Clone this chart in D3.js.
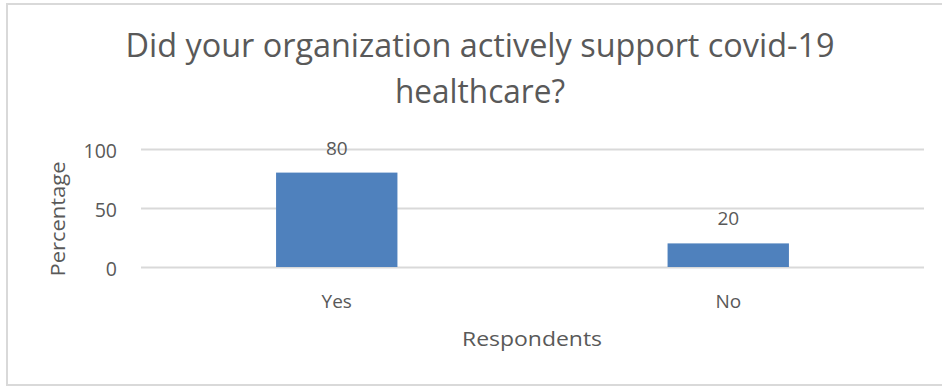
<!DOCTYPE html>
<html>
<head>
<meta charset="utf-8">
<script src="https://cdn.jsdelivr.net/npm/d3@7"></script>
<style>
  html, body { margin: 0; padding: 0; background: #fff; }
  svg { display: block; }
  text { font-family: "Open Sans", "Noto Sans", sans-serif; fill: #595959; }
</style>
</head>
<body>
<svg id="chart" width="942" height="387"></svg>
<script>
// Survey answers and their share of respondents (%)
const categories = ["Yes", "No"];
const percentages = [80, 20];
const yTicks = [0, 50, 100];
const titleLines = ["Did your organization actively support covid-19", "healthcare?"];
const xTitle = "Respondents";
const yTitle = "Percentage";

const W = 942, H = 387;
const margin = { top: 149, right: 18, bottom: 120, left: 141 };
const innerW = W - margin.left - margin.right;
const innerH = H - margin.top - margin.bottom;

const svg = d3.select("#chart");

// outer frame
svg.append("rect")
  .attr("x", 7).attr("y", 4)
  .attr("width", 945).attr("height", 381)
  .attr("fill", "#fff")
  .attr("stroke", "#d9d9d9").attr("stroke-width", 2);

const g = svg.append("g").attr("transform", `translate(${margin.left},${margin.top})`);

const x = d3.scaleBand().domain(categories).range([0, innerW])
  .paddingInner(0.69).paddingOuter(0.345);
const y = d3.scaleLinear().domain([0, 100]).range([innerH, 0]);

// horizontal gridlines
const grid = g.append("g").call(d3.axisLeft(y).tickValues(yTicks).tickSize(-innerW).tickFormat(""));
grid.select(".domain").remove();
grid.selectAll("line").attr("stroke", "#d9d9d9").attr("stroke-width", 2);

// y tick labels
const yAxis = g.append("g").call(d3.axisLeft(y).tickValues(yTicks).tickSize(0).tickPadding(24));
yAxis.select(".domain").remove();
yAxis.selectAll("text")
  .attr("font-size", 19.5).attr("fill", "#595959")
  .attr("font-family", "'Open Sans', sans-serif")
  .attr("dy", "0.42em");

// x tick labels
const xAxis = g.append("g").attr("transform", `translate(0,${innerH})`)
  .call(d3.axisBottom(x).tickSize(0).tickPadding(0));
xAxis.select(".domain").remove();
xAxis.selectAll("text")
  .attr("font-size", 19).attr("fill", "#595959")
  .attr("font-family", "'Open Sans', sans-serif")
  .attr("dy", null).attr("y", 41);

// bars
g.selectAll("rect.bar")
  .data(categories)
  .join("rect")
  .attr("class", "bar")
  .attr("x", d => x(d))
  .attr("width", x.bandwidth())
  .attr("y", (d, i) => y(percentages[i]))
  .attr("height", (d, i) => innerH - y(percentages[i]))
  .attr("fill", "#4f81bd");

// value labels
g.selectAll("text.val")
  .data(categories)
  .join("text")
  .attr("class", "val")
  .attr("x", d => x(d) + x.bandwidth() / 2)
  .attr("y", (d, i) => y(percentages[i]) - 18)
  .attr("text-anchor", "middle")
  .attr("font-size", 19)
  .attr("fill", "#404040")
  .text((d, i) => percentages[i]);

// chart title
const titleX = 480;
svg.selectAll("text.title")
  .data(titleLines)
  .join("text")
  .attr("class", "title")
  .attr("x", titleX)
  .attr("y", (d, i) => 57 + i * 46)
  .attr("text-anchor", "middle")
  .attr("font-size", 32)
  .attr("textLength", (d, i) => i === 0 ? 709 : 170)
  .attr("lengthAdjust", "spacingAndGlyphs")
  .text(d => d);

// axis titles
svg.append("text")
  .attr("x", 532).attr("y", 346)
  .attr("text-anchor", "middle")
  .attr("font-size", 20.5)
  .attr("textLength", 140).attr("lengthAdjust", "spacingAndGlyphs")
  .text(xTitle);

svg.append("text")
  .attr("transform", "translate(65,219) rotate(-90)")
  .attr("text-anchor", "middle")
  .attr("font-size", 20.5)
  .attr("textLength", 115).attr("lengthAdjust", "spacingAndGlyphs")
  .text(yTitle);
</script>
</body>
</html>
